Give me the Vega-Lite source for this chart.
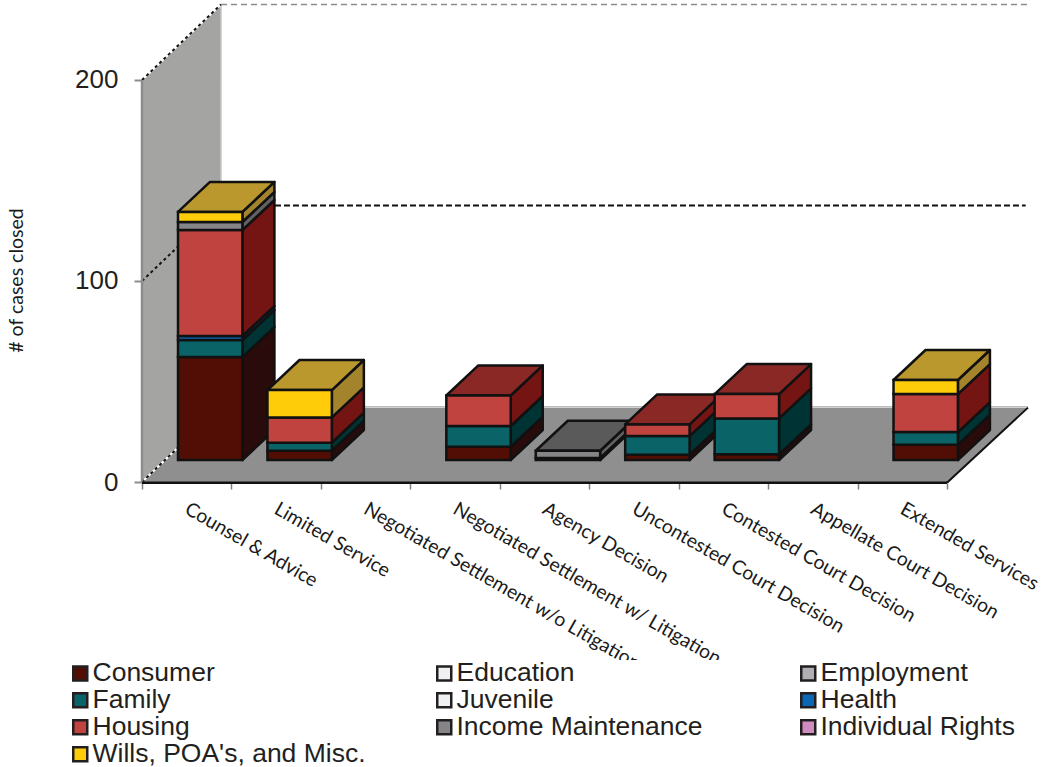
{
"$schema":"https://vega.github.io/schema/vega-lite/v6.json",
"width":1042,"height":767,"padding":0,"autosize":{"type":"none"},"background":"white",
"config":{"view":{"stroke":null},"font":"Liberation Sans"},
"encoding":{
 "x":{"field":"gx","type":"quantitative","stack":null,"scale":{"domain":[-1.5877,10.0626],"nice":false,"zero":false},
    "axis":{"orient":"bottom","offset":-284,"domain":false,"grid":false,"title":null,"values":[0,1,2,3,4,5,6,7,8,9],"tickColor":"#808080","tickWidth":1.5,"tickSize":6,
     "labelExpr":"['Counsel & Advice','Limited Service','Negotiated Settlement w/o Litigation','Negotiated Settlement w/ Litigation','Agency Decision','Uncontested Court Decision','Contested Court Decision','Appellate Court Decision','Extended Services',''][datum.value]",
     "labelAngle":30,"labelAlign":"left","labelBaseline":"middle","labelOffset":44,"labelPadding":18,"labelOverlap":false,"labelFlush":false,"labelBound":false,"labelLimit":600,
     "labelFont":"Lato","labelFontSize":19.4,"labelColor":"#1a1a1a"}},
 "y":{"field":"gy","type":"quantitative","stack":null,"scale":{"domain":[-141.79,239.8],"nice":false,"zero":false},
    "axis":{"orient":"left","offset":-142,"domain":false,"grid":false,"values":[0,100,200],"tickColor":"#8c8c8c","tickWidth":2,"tickSize":8,"labelPadding":16,
     "labelFont":"Liberation Sans","labelFontSize":26,"labelColor":"#231f20",
     "title":"# of cases closed","titleFont":"Lato","titleFontSize":19.5,"titleFontWeight":"normal","titleColor":"#1a1a1a","titleX":-126,"titleY":280,"titleAlign":"center","titleBaseline":"middle","titleAngle":-90}}
},
"resolve":{"scale":{"fill":"independent"},"legend":{"fill":"independent"}},
"layer":[
 {"data":{"values":[{"d":0},{"d":1}]},
  "transform":[{"calculate":"datum.d*0.883","as":"gx"},{"calculate":"datum.d*37.56-0.4","as":"gy"},{"calculate":"200+datum.d*37.56","as":"gy2"}],
  "mark":{"type":"area","color":"#a4a4a2"},
  "encoding":{"y2":{"field":"gy2"}}},
 {"data":{"values":[{"d":0},{"d":1}]},
  "transform":[{"calculate":"datum.d*0.883","as":"gx"},{"calculate":"9+datum.d*0.906","as":"gx2"},{"calculate":"datum.d*37.4-0.4","as":"gy"}],
  "mark":{"type":"area","orient":"horizontal","color":"#8f8f8f"},
  "encoding":{"x2":{"field":"gx2"}}},
 {"data":{"values":[{"edge":"wall"}]},
  "transform":[{"calculate":"0.883","as":"gx"},{"calculate":"37.4","as":"gy"},{"calculate":"237.56","as":"gy2"}],
  "mark":{"type":"rule","color":"#c6c6c6","strokeWidth":1.5},
  "encoding":{"y2":{"field":"gy2"}}},
 {"data":{"values":[{"edge":"floor"}]},
  "transform":[{"calculate":"0.883","as":"gx"},{"calculate":"9.906","as":"gx2"},{"calculate":"37.4","as":"gy"}],
  "mark":{"type":"rule","color":"#bdbdbd","strokeWidth":1.5},
  "encoding":{"x2":{"field":"gx2"}}},
 {"data":{"values":[{"v":0,"d":0},{"v":0,"d":1},{"v":200,"d":0},{"v":200,"d":1}]},
  "transform":[{"calculate":"datum.d*0.883","as":"gx"},{"calculate":"datum.v+datum.d*37.56","as":"gy"}],
  "mark":{"type":"line","color":"white","strokeWidth":2},
  "encoding":{"detail":{"field":"v"}}},
 {"data":{"values":[{"v":0,"d":0},{"v":0,"d":1},{"v":100,"d":0},{"v":100,"d":1},{"v":200,"d":0},{"v":200,"d":1}]},
  "transform":[{"calculate":"datum.d*0.883","as":"gx"},{"calculate":"datum.v+datum.d*37.56","as":"gy"}],
  "mark":{"type":"line","color":"#111111","strokeWidth":2,"strokeDash":[3,3]},
  "encoding":{"detail":{"field":"v"}}},
 {"data":{"values":[{"v":200}]},
  "transform":[{"calculate":"0.883","as":"gx"},{"calculate":"9.906","as":"gx2"},{"calculate":"datum.v+37.56","as":"gy"}],
  "mark":{"type":"rule","color":"#8c8c8c","strokeWidth":1.3,"strokeDash":[6,4]},
  "encoding":{"x2":{"field":"gx2"}}},
 {"data":{"values":[{"v":100}]},
  "transform":[{"calculate":"0.883","as":"gx"},{"calculate":"9.88","as":"gx2"},{"calculate":"datum.v+37.56","as":"gy"}],
  "mark":{"type":"rule","color":"#111111","strokeWidth":2,"strokeDash":[6,3]},
  "encoding":{"x2":{"field":"gx2"}}},
 {"data":{"values":[{"d":0},{"d":1}]},
  "transform":[{"calculate":"9+datum.d*0.906","as":"gx"},{"calculate":"datum.d*37.4-0.4","as":"gy"}],
  "mark":{"type":"line","color":"#111111","strokeWidth":2}},
 {"data":{"values":[{"axis":"y"}]},
  "transform":[{"calculate":"0","as":"gx"},{"calculate":"-0.4","as":"gy"},{"calculate":"200","as":"gy2"}],
  "mark":{"type":"rule","color":"#8c8c8c","strokeWidth":2.5},
  "encoding":{"y2":{"field":"gy2"}}},
 {"data":{"values":[{"axis":"x"}]},
  "transform":[{"calculate":"0","as":"gx"},{"calculate":"9","as":"gx2"},{"calculate":"-0.4","as":"gy"}],
  "mark":{"type":"rule","color":"#111111","strokeWidth":2.5},
  "encoding":{"x2":{"field":"gx2"}}},
 {"data":{"values":[
  {"category":"Counsel & Advice","order":0,"series":"Consumer","rank":0,"cases":51.2},
  {"category":"Counsel & Advice","order":0,"series":"Family","rank":3,"cases":8.5},
  {"category":"Counsel & Advice","order":0,"series":"Health","rank":5,"cases":2},
  {"category":"Counsel & Advice","order":0,"series":"Housing","rank":6,"cases":52.7},
  {"category":"Counsel & Advice","order":0,"series":"Income Maintenance","rank":7,"cases":4},
  {"category":"Counsel & Advice","order":0,"series":"Wills, POA's, and Misc.","rank":9,"cases":5},
  {"category":"Limited Service","order":1,"series":"Consumer","rank":0,"cases":4.6},
  {"category":"Limited Service","order":1,"series":"Family","rank":3,"cases":4},
  {"category":"Limited Service","order":1,"series":"Housing","rank":6,"cases":12.6},
  {"category":"Limited Service","order":1,"series":"Wills, POA's, and Misc.","rank":9,"cases":13.6},
  {"category":"Negotiated Settlement w/ Litigation","order":3,"series":"Consumer","rank":0,"cases":6.6},
  {"category":"Negotiated Settlement w/ Litigation","order":3,"series":"Family","rank":3,"cases":10.3},
  {"category":"Negotiated Settlement w/ Litigation","order":3,"series":"Housing","rank":6,"cases":15.2},
  {"category":"Agency Decision","order":4,"series":"Consumer","rank":0,"cases":1},
  {"category":"Agency Decision","order":4,"series":"Income Maintenance","rank":7,"cases":3.6},
  {"category":"Uncontested Court Decision","order":5,"series":"Consumer","rank":0,"cases":2.6},
  {"category":"Uncontested Court Decision","order":5,"series":"Family","rank":3,"cases":9.3},
  {"category":"Uncontested Court Decision","order":5,"series":"Housing","rank":6,"cases":5.8},
  {"category":"Contested Court Decision","order":6,"series":"Consumer","rank":0,"cases":2.8},
  {"category":"Contested Court Decision","order":6,"series":"Family","rank":3,"cases":17.9},
  {"category":"Contested Court Decision","order":6,"series":"Housing","rank":6,"cases":12.1},
  {"category":"Extended Services","order":8,"series":"Consumer","rank":0,"cases":7.6},
  {"category":"Extended Services","order":8,"series":"Family","rank":3,"cases":6.3},
  {"category":"Extended Services","order":8,"series":"Housing","rank":6,"cases":18.9},
  {"category":"Extended Services","order":8,"series":"Wills, POA's, and Misc.","rank":9,"cases":7}
  ]},
  "transform":[
   {"stack":"cases","groupby":["category"],"sort":[{"field":"rank","order":"ascending"}],"as":["start","end"]},
   {"joinaggregate":[{"op":"max","field":"end","as":"stackTop"}],"groupby":["category"]}
  ],
  "resolve":{"scale":{"fill":"independent"},"legend":{"fill":"independent"}},
  "layer":[
   {"transform":[{"calculate":"[0,1]","as":"d"},{"flatten":["d"]},
     {"calculate":"datum.order+1.1225+datum.d*0.358","as":"gx"},
     {"calculate":"10.95+datum.start+datum.d*14.93","as":"gy"},
     {"calculate":"10.95+datum.end+datum.d*14.93","as":"gy2"}],
    "mark":{"type":"area","stroke":"#111111","strokeWidth":2.5,"strokeJoin":"round"},
    "encoding":{"y2":{"field":"gy2"},"detail":{"field":"category"},
     "fill":{"field":"series","type":"nominal","legend":null,"scale":{
      "domain":["Consumer","Family","Health","Housing","Income Maintenance","Wills, POA's, and Misc."],
      "range":["#2a0b0b","#003333","#0a3d78","#741513","#626262","#a3832c"]}}}},
   {"transform":[{"filter":"datum.end==datum.stackTop"},{"calculate":"[0,1]","as":"d"},{"flatten":["d"]},
     {"calculate":"datum.order+0.4025+datum.d*0.358","as":"gx"},
     {"calculate":"datum.order+1.1225+datum.d*0.358","as":"gx2"},
     {"calculate":"10.95+datum.end+datum.d*14.93","as":"gy"}],
    "mark":{"type":"area","orient":"horizontal","stroke":"#111111","strokeWidth":2.5,"strokeJoin":"round"},
    "encoding":{"x2":{"field":"gx2"},"detail":{"field":"category"},
     "fill":{"field":"series","type":"nominal","legend":null,"scale":{
      "domain":["Housing","Income Maintenance","Wills, POA's, and Misc."],
      "range":["#8a2826","#5a5a5a","#ba982e"]}}}},
   {"transform":[
     {"calculate":"datum.order+0.4025","as":"gx"},
     {"calculate":"datum.order+1.1225","as":"gx2"},
     {"calculate":"10.95+datum.start","as":"gy"},
     {"calculate":"10.95+datum.end","as":"gy2"}],
    "mark":{"type":"rect","stroke":"#111111","strokeWidth":2.5},
    "encoding":{"x2":{"field":"gx2"},"y2":{"field":"gy2"},
     "fill":{"field":"series","type":"nominal","scale":{
      "domain":["Consumer","Education","Employment","Family","Juvenile","Health","Housing","Income Maintenance","Individual Rights","Wills, POA's, and Misc."],
      "range":["#520d05","#eff0f2","#b0b0b4","#0a6366","#eff0f2","#0a67b5","#c0433f","#858588","#d08cc0","#ffcc0a"]},
      "legend":{"title":null,"orient":"none","legendX":67,"legendY":660,"padding":0,"fillColor":"white","direction":"horizontal","columns":3,"gridAlign":"all","columnPadding":65,"rowPadding":0,
       "symbolType":"square","symbolSize":196,"symbolStrokeColor":"#231f20","symbolStrokeWidth":2.5,"symbolOpacity":1,"labelOffset":-1,"labelFont":"Liberation Sans","labelFontSize":26.5,"labelColor":"#231f20","labelLimit":400,"values":["Consumer","Education","Employment","Family","Juvenile","Health","Housing","Income Maintenance","Individual Rights","Wills, POA's, and Misc."]}}}}
  ]}
]
}
